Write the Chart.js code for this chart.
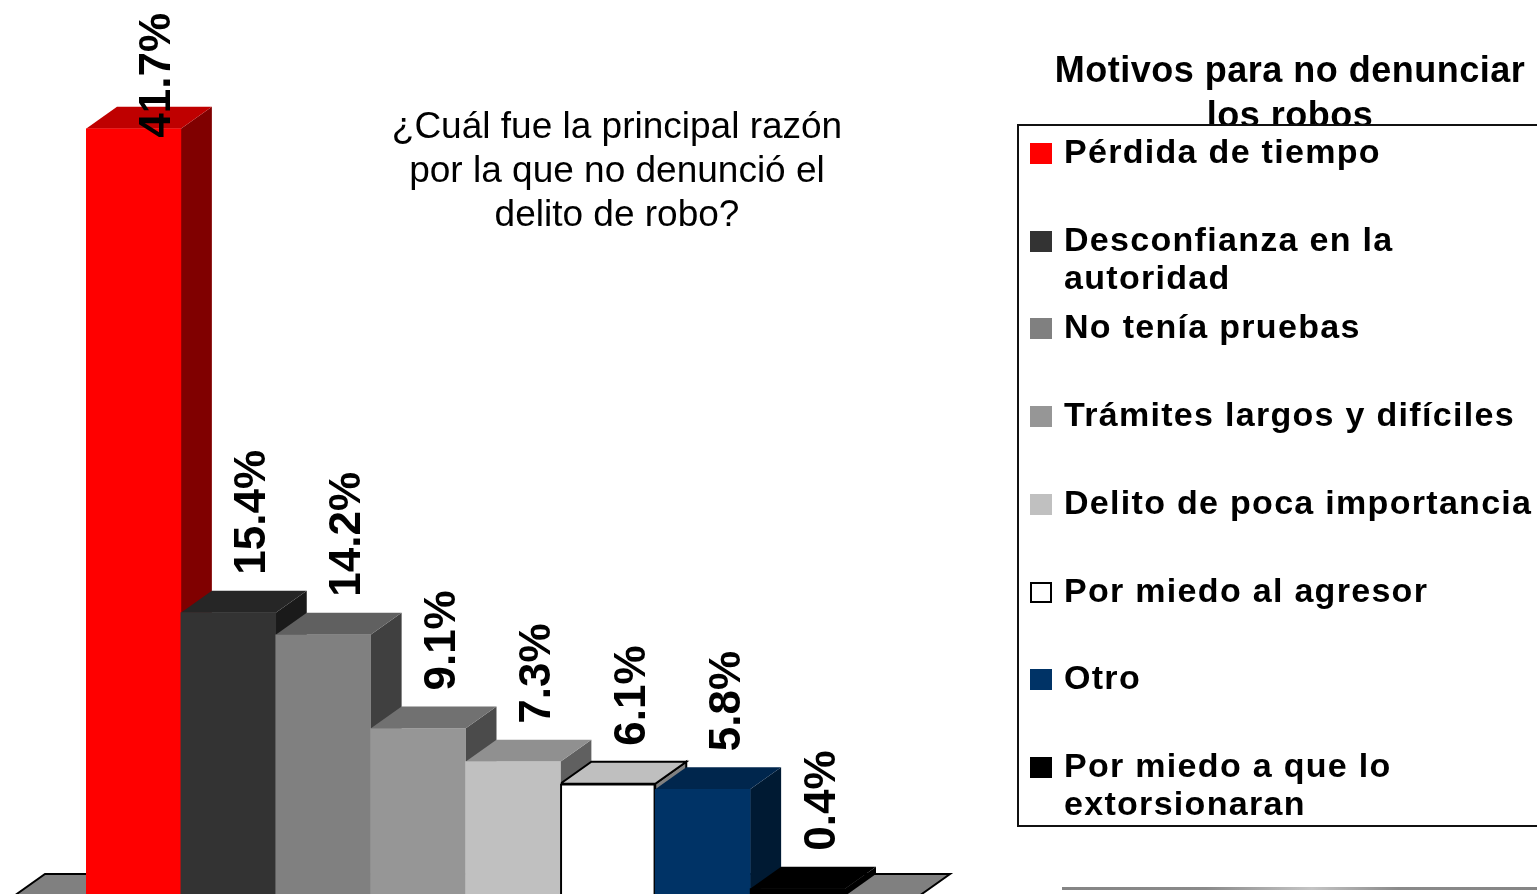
<!DOCTYPE html>
<html lang="es">
<head>
<meta charset="utf-8">
<title>Motivos para no denunciar los robos</title>
<script src="https://cdn.jsdelivr.net/npm/chart.js@4.4.1/dist/chart.umd.min.js"></script>
<style>
  html, body { margin: 0; padding: 0; background: #fff; overflow: hidden; width: 1537px; height: 894px; }
  body { position: relative; font-family: "Liberation Sans", Arial, Helvetica, sans-serif; }
  #chartWrap { position: absolute; left: 0; top: 0; width: 1537px; height: 940px; }
  #question {
    position: absolute; left: 367px; top: 104px; width: 500px;
    text-align: center; font-size: 37px; line-height: 44px; color: #000;
  }
  #legendTitle {
    position: absolute; left: 1040px; top: 47px; width: 500px; z-index: 1;
    text-align: center; font-size: 36px; font-weight: bold; line-height: 45px;
    letter-spacing: 0.5px; color: #000;
  }
  #legendBox {
    position: absolute; left: 1017px; top: 124px; width: 580px; height: 703px;
    border: 2px solid #111; background: #fff; z-index: 2; box-sizing: border-box;
  }
  .item { position: absolute; left: 0; width: 560px; height: 80px; }
  .swatch { position: absolute; left: 11px; top: 11px; width: 22px; height: 21px; box-sizing: border-box; }
  .label {
    position: absolute; left: 45px; top: 0; width: 490px;
    font-size: 34px; font-weight: bold; line-height: 38px; letter-spacing: 1.3px; color: #000;
  }
  #baseRule {
    position: absolute; left: 1062px; top: 887px; width: 480px; height: 3px;
    background: linear-gradient(to right, #858585, #8a8a8a 30%, #c4c4c4 52%, #8a8a8a 70%, #858585);
  }
</style>
</head>
<body>
<div id="chartWrap"><canvas id="chart" width="1537" height="940"></canvas></div>
<div id="question">¿Cuál fue la principal razón por la que no denunció el delito de robo?</div>
<div id="legendTitle">Motivos para no denunciar los robos</div>
<div id="legendBox"></div>
<div id="baseRule"></div>

<script>
// Categories (reasons for not reporting) and their shares in percent
const categories = [
  'Pérdida de tiempo',
  'Desconfianza en la autoridad',
  'No tenía pruebas',
  'Trámites largos y difíciles',
  'Delito de poca importancia',
  'Por miedo al agresor',
  'Otro',
  'Por miedo a que lo extorsionaran'
];
const values = [41.7, 15.4, 14.2, 9.1, 7.3, 6.1, 5.8, 0.4];
const barColors = ['#FF0000', '#333333', '#808080', '#969696', '#C0C0C0', '#FFFFFF', '#003366', '#000000'];
const outlined = [false, false, false, false, false, true, false, false];

// 3D look: depth offset of the back faces
const DEPTH_X = 31;
const DEPTH_Y = 22;
const FLOOR_LEFT = 72;
const FLOOR_RIGHT = 74;

function shade(hex, f) {
  const n = parseInt(hex.slice(1), 16);
  const r = Math.round(((n >> 16) & 255) * f);
  const g = Math.round(((n >> 8) & 255) * f);
  const b = Math.round((n & 255) * f);
  return 'rgb(' + r + ',' + g + ',' + b + ')';
}

function poly(ctx, pts, fill, stroke, lw) {
  ctx.beginPath();
  ctx.moveTo(pts[0][0], pts[0][1]);
  for (let i = 1; i < pts.length; i++) ctx.lineTo(pts[i][0], pts[i][1]);
  ctx.closePath();
  ctx.fillStyle = fill;
  ctx.fill();
  if (stroke) {
    ctx.strokeStyle = stroke;
    ctx.lineWidth = lw;
    ctx.lineJoin = 'miter';
    ctx.stroke();
  }
}

// Floor plus the top and side faces, drawn behind the front faces
const bar3d = {
  id: 'bar3d',
  beforeDatasetsDraw(chart) {
    const ctx = chart.ctx;
    const area = chart.chartArea;
    const base = chart.scales.y.getPixelForValue(0);
    ctx.save();
    const fl = area.left - FLOOR_LEFT, fr = area.right + FLOOR_RIGHT;
    poly(ctx, [[fl, base], [fr, base], [fr + DEPTH_X, base - DEPTH_Y], [fl + DEPTH_X, base - DEPTH_Y]],
      '#808080', '#000', 2);

    const meta = chart.getDatasetMeta(0);
    meta.data.forEach((el, i) => {
      const p = el.getProps(['x', 'y', 'width'], true);
      const l = p.x - p.width / 2, r = p.x + p.width / 2, t = p.y;
      const col = barColors[i];
      const edge = outlined[i] ? '#000' : null;
      poly(ctx, [[r, t], [r + DEPTH_X, t - DEPTH_Y], [r + DEPTH_X, base - DEPTH_Y], [r, base]],
        shade(col, 0.5), edge, 2);
      poly(ctx, [[l, t], [r, t], [r + DEPTH_X, t - DEPTH_Y], [l + DEPTH_X, t - DEPTH_Y]],
        shade(col, 0.75), edge, 2);
    });
    ctx.restore();
  },
  afterDatasetsDraw(chart) {
    // rotated value labels above each bar
    const ctx = chart.ctx;
    const meta = chart.getDatasetMeta(0);
    ctx.save();
    ctx.font = 'bold 44px "Liberation Sans", Arial, sans-serif';
    ctx.fillStyle = '#000';
    ctx.textBaseline = 'alphabetic';
    ctx.textAlign = 'left';
    meta.data.forEach((el, i) => {
      const txt = values[i].toFixed(1) + '%';
      const w = ctx.measureText(txt).width;
      let bottom = el.y - 38;
      if (bottom - w < 13) bottom = 13 + w;
      ctx.save();
      ctx.translate(el.x + 37, bottom);
      ctx.rotate(-Math.PI / 2);
      ctx.fillText(txt, 0, 0);
      ctx.restore();
    });
    ctx.restore();
  }
};

new Chart(document.getElementById('chart'), {
  type: 'bar',
  data: {
    labels: categories,
    datasets: [{
      data: values,
      backgroundColor: barColors,
      borderColor: '#000',
      borderWidth: outlined.map(o => (o ? 2 : 0)),
      borderSkipped: 'bottom',
      categoryPercentage: 1.0,
      barPercentage: 1.0
    }]
  },
  options: {
    responsive: false,
    devicePixelRatio: 1,
    animation: false,
    layout: { padding: { left: 86, right: 692, top: 68, bottom: 44 } },
    plugins: { legend: { display: false }, tooltip: { enabled: false }, title: { display: false } },
    scales: {
      x: { display: false },
      y: { display: false, min: 0, max: 45 }
    }
  },
  plugins: [bar3d]
});

// Legend entries built from the same categories and colours
const box = document.getElementById('legendBox');
const STEP = 87.7;
categories.forEach((name, i) => {
  const item = document.createElement('div');
  item.className = 'item';
  item.style.top = (6 + i * STEP) + 'px';
  const sw = document.createElement('div');
  sw.className = 'swatch';
  sw.style.background = barColors[i];
  if (outlined[i]) sw.style.border = '2px solid #000';
  const lb = document.createElement('div');
  lb.className = 'label';
  lb.textContent = name;
  item.appendChild(sw);
  item.appendChild(lb);
  box.appendChild(item);
});
</script>
</body>
</html>
